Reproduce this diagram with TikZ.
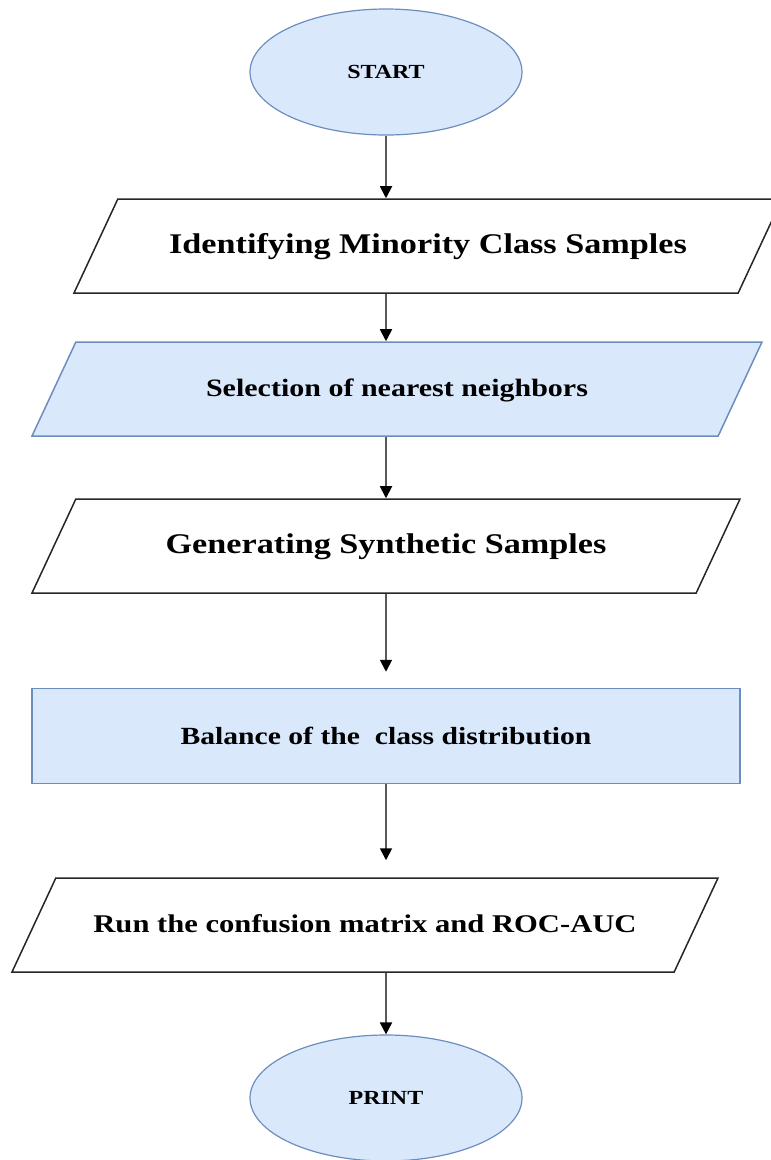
\documentclass[tikz,border=0pt]{standalone}
\usepackage{fontspec}
\setmainfont{Liberation Serif}[FakeStretch=1.2]
\usetikzlibrary{shapes.geometric, arrows.meta}
\definecolor{paleblue}{HTML}{DAE8FC}
\definecolor{edgeblue}{HTML}{6C8EBF}

\begin{document}
\begin{tikzpicture}[x=1pt, y=-1pt,
  every node/.style={inner sep=0pt},
  term/.style={ellipse, draw=edgeblue, fill=paleblue, line width=1.2pt,
               minimum width=272pt, minimum height=126pt,
               font=\fontsize{20}{24}\selectfont\bfseries},
  % height comes from the text box plus inner ysep, so the slant stays put
  io/.style={trapezium, trapezium left angle=65, trapezium right angle=115,
             trapezium stretches body, draw=black!85, line width=1.5pt,
             text height=20pt, text depth=6pt, inner ysep=34pt,
             minimum width=708pt},
  blue/.style={draw=edgeblue, fill=paleblue},
  arrow/.style={-{Triangle[width=12pt, length=12pt, color=black]},
                black!65, line width=1.8pt}]
\useasboundingbox (0,0) rectangle (771,1160);

% start / end terminals
\node[term] (start) at (386,72) {START};
\node[term] (print) at (386,1098) {PRINT};

% steps
\node[io, font=\fontsize{28.5}{32}\selectfont\bfseries] (ident) at (428,246)
  {Identifying Minority Class Samples};
\node[io, blue, minimum width=730pt, font=\fontsize{25}{30}\selectfont\bfseries]
  (select) at (397,389) {Selection of nearest neighbors};
\node[io, font=\fontsize{28.5}{32}\selectfont\bfseries] (gen) at (386,546)
  {Generating Synthetic Samples};
\node[rectangle, blue, line width=1.5pt, minimum width=708pt, minimum height=95pt,
      font=\fontsize{24.7}{30}\selectfont\bfseries] (bal) at (386,736)
  {Balance of the \ class distribution};
\node[io, minimum width=706pt, font=\fontsize{25.5}{30}\selectfont\bfseries]
  (run) at (365,925) {Run the confusion matrix and ROC-AUC};

% connectors
\draw[arrow] (start.south) -- (ident.north -| start.south);
\draw[arrow] (ident.south -| start.south) -- (select.north -| start.south);
\draw[arrow] (select.south -| start.south) -- (gen.north -| start.south);
\draw[arrow, shorten >=16pt] (gen.south -| start.south) -- (bal.north -| start.south);
\draw[arrow, shorten >=17pt] (bal.south -| start.south) -- (run.north -| start.south);
\draw[arrow] (run.south -| start.south) -- (print.north);
\end{tikzpicture}
\end{document}
